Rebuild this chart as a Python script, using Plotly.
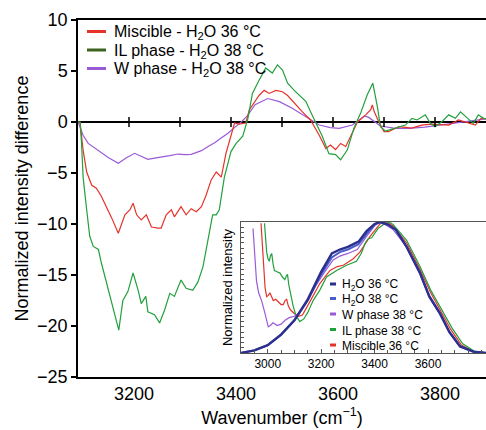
import plotly.graph_objects as go

# ---------------- main panel data (difference spectra) ----------------
w_x = [3100, 3110, 3120, 3143, 3160, 3179, 3195, 3211, 3225, 3237, 3250, 3263, 3280, 3296,
       3310, 3322, 3342, 3355, 3368, 3380, 3394, 3408, 3420, 3432, 3447, 3472, 3495, 3520,
       3547, 3573, 3595, 3612, 3638, 3650, 3662, 3670, 3677, 3693, 3722, 3748, 3780, 3810,
       3840, 3870, 3900]
w_y = [0, -1.3, -2.1, -2.9, -3.5, -4.05, -3.5, -3.07, -3.4, -3.66, -3.55, -3.46, -3.3, -3.14,
       -3.2, -3.17, -2.81, -2.4, -2.03, -1.6, -1.1, -0.5, 0, 0.6, 1.7, 2.3, 2.0, 1.34,
       0.52, -0.3, -0.55, -0.62, -0.3, 0.15, 0.59, 0.45, 0.2, -0.39, -0.62, -0.62, -0.5, -0.3,
       -0.1, 0.1, 0.3]

mis_x = [3100, 3104, 3110, 3117, 3127, 3136, 3146, 3156, 3166, 3179, 3192, 3202, 3208, 3215,
         3224, 3234, 3244, 3257, 3263, 3273, 3283, 3289, 3302, 3312, 3322, 3332, 3342, 3351,
         3361, 3371, 3381, 3390, 3400, 3407, 3416, 3429, 3436, 3446, 3455, 3465, 3475, 3488,
         3501, 3511, 3527, 3540, 3556, 3573, 3586, 3595, 3605, 3615, 3625, 3635, 3648, 3664,
         3674, 3677, 3681, 3690, 3700, 3709, 3729, 3754, 3774, 3793, 3827, 3846, 3866, 3879,
         3891, 3900]
mis_y = [0, 0, -2.75, -4.9, -6.2, -6.5, -7.3, -8.3, -9.4, -10.9, -9.1, -8.6, -7.97, -9.1,
         -9.6, -9.1, -10.3, -10.4, -10.4, -9.1, -8.6, -9.3, -8.3, -9.1, -8.5, -8.8, -8.3, -7.2,
         -5.7, -4.9, -5.4, -3.1, -1.4, -0.1, -0.2, -0.1, 1.2, 1.9, 2.6, 3.1, 2.8, 3.1,
         2.97, 2.6, 1.67, 1.0, 0.2, -1.3, -2.6, -2.25, -2.7, -2.1, -2.4, -1.4, 0, 0.7,
         1.2, 1.67, 1.0, 0, -0.95, -0.95, -0.46, -0.6, -0.3, -0.2, -0.3, 0.2, -0.1, -0.3,
         0.4, 0.3]

il_x = [3100, 3104, 3107, 3110, 3117, 3123, 3130, 3140, 3146, 3156, 3162, 3172, 3180, 3188,
        3198, 3208, 3218, 3224, 3233, 3237, 3250, 3260, 3270, 3280, 3289, 3302, 3312, 3325,
        3335, 3345, 3354, 3364, 3371, 3377, 3387, 3400, 3410, 3423, 3433, 3442, 3455, 3468,
        3481, 3491, 3501, 3511, 3524, 3537, 3547, 3556, 3569, 3579, 3592, 3605, 3615, 3628,
        3641, 3654, 3667, 3678, 3687, 3693, 3703, 3722, 3742, 3755, 3765, 3781, 3791, 3800,
        3813, 3827, 3840, 3850, 3862, 3875, 3885, 3895, 3900]
il_y = [0, 0, -2.1, -5.4, -8.6, -11.2, -12.2, -12.5, -13.85, -15.7, -16.8, -18.8, -20.4, -17.5,
        -16.6, -14.8, -16.5, -17.8, -17.1, -18.6, -18.9, -19.7, -18.4, -16.8, -17.1, -15.5, -16.3, -16.5,
        -15.7, -14.2, -11.9, -9.1, -9.1, -8.6, -5.4, -2.9, -2.1, -1.4, 0.3, 2.8, 4.1, 5.3,
        4.8, 5.6, 5.1, 3.8, 3.1, 2.5, 2.0, 1.0, -0.3, -1.4, -3.1, -3.2, -3.7, -2.75,
        -0.6, 0.85, 2.65, 3.8, 1.5, -0.46, -0.9, -0.6, -0.3, 0.36, 0.2, 0.7, -0.13, -0.46,
        0, 0.7, 0.36, 1.0, 0.5, -0.13, 0.7, 0.36, 0.3]

zero_ticks = [3200, 3300, 3400, 3500, 3600, 3700, 3800]
main_xticks = [3200, 3400, 3600, 3800]
main_yticks = [-25, -20, -15, -10, -5, 0, 5, 10]

# ---------------- inset data (normalized spectra) ----------------
h36_x = [2900, 2950, 3000, 3050, 3100, 3150, 3200, 3240, 3270, 3300, 3340, 3370, 3400, 3420,
         3450, 3480, 3520, 3570, 3605, 3645, 3680, 3720, 3770, 3820]
h36_y = [0.0, 0.02, 0.06, 0.14, 0.25, 0.41, 0.62, 0.76, 0.79, 0.81, 0.85, 0.93, 0.985, 1.0,
         0.98, 0.94, 0.81, 0.61, 0.43, 0.30, 0.16, 0.05, 0.01, 0.0]
h38_x = [2900, 2950, 3000, 3050, 3100, 3150, 3200, 3240, 3270, 3300, 3340, 3370, 3400, 3420,
         3450, 3480, 3520, 3570, 3605, 3645, 3680, 3720, 3770, 3820]
h38_y = [0.0, 0.02, 0.06, 0.14, 0.25, 0.40, 0.60, 0.73, 0.77, 0.79, 0.83, 0.91, 0.98, 1.0,
         0.98, 0.94, 0.81, 0.61, 0.43, 0.30, 0.16, 0.05, 0.01, 0.0]
wph_x = [2945, 2950, 2958, 2966, 2977, 2990, 3002, 3010, 3020, 3035, 3050, 3065, 3080, 3100,
         3120, 3160, 3210, 3245, 3270, 3300, 3335, 3370, 3400, 3415, 3440, 3470, 3520, 3570,
         3605, 3645, 3680, 3720, 3770, 3820]
wph_y = [0.95, 0.80, 0.55, 0.46, 0.40, 0.30, 0.20, 0.21, 0.23, 0.21, 0.22, 0.25, 0.27, 0.28,
         0.31, 0.45, 0.61, 0.71, 0.74, 0.76, 0.79, 0.89, 0.97, 1.0, 0.98, 0.94, 0.81, 0.62,
         0.44, 0.31, 0.16, 0.05, 0.01, 0.0]
mph_x = [2975, 2980, 2985, 2990, 2996, 3002, 3008, 3015, 3021, 3030, 3040, 3050, 3058, 3065,
         3071, 3077, 3085, 3100, 3115, 3130, 3160, 3195, 3233, 3260, 3283, 3320, 3345, 3383,
         3420, 3445, 3470, 3520, 3570, 3610, 3645, 3685, 3725, 3770, 3820]
mph_y = [0.99, 0.80, 0.62, 0.50, 0.43, 0.44, 0.46, 0.42, 0.40, 0.41, 0.39, 0.37, 0.37, 0.40,
         0.41, 0.36, 0.33, 0.30, 0.28, 0.29, 0.40, 0.53, 0.63, 0.66, 0.67, 0.72, 0.77, 0.89,
         0.985, 1.0, 0.97, 0.84, 0.64, 0.46, 0.33, 0.18, 0.06, 0.012, 0.0]
ilph_x = [2988, 2992, 2996, 3001, 3006, 3010, 3015, 3020, 3025, 3035, 3046, 3055, 3064, 3070,
          3074, 3079, 3085, 3095, 3105, 3120, 3135, 3150, 3170, 3195, 3220, 3258, 3295, 3332,
          3350, 3365, 3375, 3389, 3413, 3440, 3455, 3470, 3520, 3570, 3610, 3650, 3690, 3730,
          3775, 3820]
ilph_y = [0.99, 0.88, 0.77, 0.72, 0.70, 0.74, 0.76, 0.68, 0.63, 0.62, 0.61, 0.58, 0.56, 0.59,
          0.60, 0.52, 0.45, 0.36, 0.29, 0.24, 0.26, 0.31, 0.40, 0.48, 0.58, 0.63, 0.67, 0.70,
          0.76, 0.84, 0.87, 0.88, 0.95, 0.99, 1.0, 0.98, 0.86, 0.66, 0.48, 0.34, 0.19, 0.07,
          0.012, 0.0]
inset_xticks = [3000, 3200, 3400, 3600]

# ---------------- styling ----------------
W, H = 486, 430
ML, MR, MT, MB = 78, 0, 20, 53
FONT = "Liberation Sans, Arial, Helvetica, sans-serif"
RED, GREEN, PURPLE = "#e5332a", "#22a03c", "#9a5ad6"
LEG_GREEN = "#3c6420"
NAVY, BLUE = "#2b2f8e", "#4a5cc8"

def px(xp):
    return (xp - ML) / (W - ML - MR)

def py(yp):
    return (H - MB - yp) / (H - MT - MB)

fig = go.Figure()

# main traces
fig.add_trace(go.Scatter(x=w_x, y=w_y, mode="lines", line=dict(color=PURPLE, width=1.2),
                         showlegend=False))
fig.add_trace(go.Scatter(x=mis_x, y=mis_y, mode="lines", line=dict(color=RED, width=1.2),
                         showlegend=False))
fig.add_trace(go.Scatter(x=il_x, y=il_y, mode="lines", line=dict(color=GREEN, width=1.2),
                         showlegend=False))
fig.add_trace(go.Scatter(x=zero_ticks, y=[0] * len(zero_ticks), mode="markers",
                         marker=dict(symbol="line-ns", size=7,
                                     line=dict(color="black", width=1.5)),
                         showlegend=False, hoverinfo="skip"))

# inset traces
for xs, ys, c, wdt in [(mph_x, mph_y, RED, 1.2), (ilph_x, ilph_y, GREEN, 1.2),
                       (wph_x, wph_y, PURPLE, 1.2), (h38_x, h38_y, BLUE, 2.0),
                       (h36_x, h36_y, NAVY, 2.4)]:
    fig.add_trace(go.Scatter(x=xs, y=ys, mode="lines", line=dict(color=c, width=wdt),
                             xaxis="x2", yaxis="y2", showlegend=False))

# manual legends
main_leg = [("Miscible - H<sub>2</sub>O 36 °C", RED, 31.5),
            ("IL phase - H<sub>2</sub>O 38 °C", LEG_GREEN, 50),
            ("W phase - H<sub>2</sub>O 38 °C", PURPLE, 68.5)]
inset_leg = [("H<sub>2</sub>O 36 °C", NAVY, 284),
             ("H<sub>2</sub>O 38 °C", BLUE, 298.5),
             ("W phase 38 °C", PURPLE, 314),
             ("IL phase 38 °C", GREEN, 329.5),
             ("Miscible 36 °C", RED, 345)]
shapes, annos = [], []
for txt, c, yy in main_leg:
    shapes.append(dict(type="line", xref="paper", yref="paper", x0=px(87), x1=px(106),
                       y0=py(yy), y1=py(yy), line=dict(color=c, width=3)))
    annos.append(dict(text=txt, xref="paper", yref="paper", x=px(112), y=py(yy + 1),
                      xanchor="left", yanchor="middle", showarrow=False,
                      font=dict(size=16, color="black", family=FONT)))
for txt, c, yy in inset_leg:
    shapes.append(dict(type="line", xref="paper", yref="paper", x0=px(330), x1=px(336),
                       y0=py(yy), y1=py(yy), line=dict(color=c, width=3)))
    annos.append(dict(text=txt, xref="paper", yref="paper", x=px(340), y=py(yy + 1),
                      xanchor="left", yanchor="middle", showarrow=False,
                      font=dict(size=12, color="black", family=FONT)))

fig.update_layout(
    width=W, height=H,
    margin=dict(l=ML, r=MR, t=MT, b=MB, autoexpand=False),
    paper_bgcolor="white", plot_bgcolor="white",
    font=dict(family=FONT, color="black"),
    showlegend=False,
    shapes=shapes, annotations=annos,
    xaxis=dict(range=[3100, 3900], domain=[0, 1], showline=True, linecolor="black",
               linewidth=1.5, mirror=True, ticks="", tickvals=main_xticks, automargin=False,
               tickfont=dict(size=18), ticklabelshift=5, showgrid=False, zeroline=False,
               title=dict(text="Wavenumber (cm<sup>−1</sup>)", font=dict(size=18), standoff=8)),
    yaxis=dict(range=[-25, 10], domain=[0, 1], showline=True, linecolor="black",
               linewidth=1.5, ticks="outside", ticklen=5, tickwidth=1.5, tickcolor="black",
               tickvals=main_yticks, tickfont=dict(size=18), showgrid=False, automargin=False,
               zeroline=True, zerolinecolor="black", zerolinewidth=1.5,
               title=dict(text="Normalized intensity difference", font=dict(size=18),
                          standoff=4)),
    xaxis2=dict(range=[2900, 3817], domain=[px(241), 1], anchor="y2", showline=True,
                linecolor="#555555", linewidth=1, mirror=True, ticks="inside", ticklen=4,
                tickcolor="#555555", tickvals=inset_xticks, tickfont=dict(size=12),
                automargin=False,
                minor=dict(dtick=50, tick0=2900, ticks="inside", ticklen=3, tickcolor="#555555"),
                showgrid=False, zeroline=False),
    yaxis2=dict(range=[0, 1.0], domain=[py(353), py(222)], anchor="x2", showline=True,
                linecolor="#555555", linewidth=1, mirror=False, ticks="inside", ticklen=3,
                tickcolor="#555555", dtick=0.04, showticklabels=False, showgrid=False,
                zeroline=False, automargin=False,
                title=dict(text="Normalized intensity", font=dict(size=13), standoff=4)),
)

fig.write_html("out.html", config={"displayModeBar": False},
               post_script="document.body.style.margin='0';document.body.style.overflow='hidden';")
